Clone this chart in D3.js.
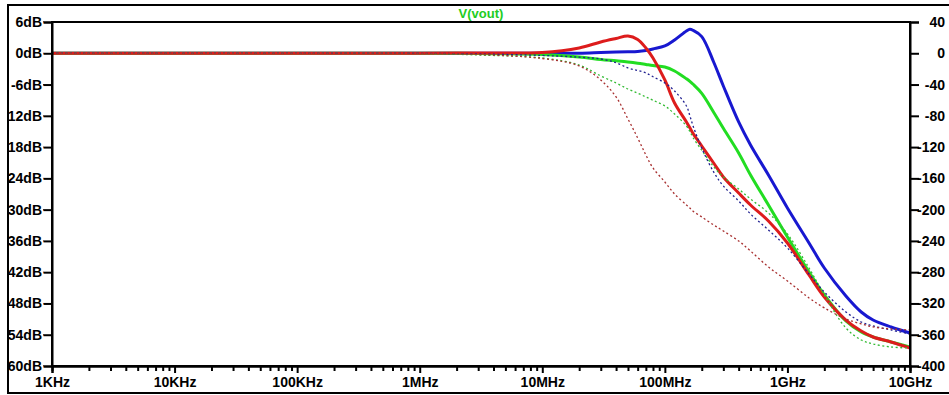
<!DOCTYPE html>
<html>
<head>
<meta charset="utf-8">
<script src="https://cdn.jsdelivr.net/npm/d3@7"></script>
<style>
  html, body { margin: 0; padding: 0; background: #fff; }
  svg { display: block; }
  text { font-family: "Liberation Sans", Arial, sans-serif; font-weight: bold; }
</style>
</head>
<body>
<svg id="chart" width="949" height="395"></svg>
<script>
// Frequency points (Hz) shared by every trace
const freq = [1e3, 1e4, 1e5, 1e6, 3e6, 1e7, 2e7, 3e7, 4e7, 5e7, 6e7, 7e7, 8e7, 1e8, 1.2e8, 1.5e8, 1.6e8, 1.7e8,
              2e8, 2.5e8, 3e8, 4e8, 5e8, 7e8, 1e9, 1.5e9, 2e9, 3e9, 4e9, 5e9, 7e9, 1e10];

// Magnitude traces, dB (left axis)
const magBlue  = [0, 0, 0, 0, 0, 0, 0, 0.15, 0.25, 0.29, 0.35, 0.54, 0.83, 1.40, 2.55, 4.28, 4.60, 4.40,
                  3.20, -1.67, -6.27, -13.18, -17.60, -23.35, -29.68, -36.40, -41.20, -46.57, -49.64, -51.18, -52.52, -53.67];
const magGreen = [0, 0, 0, 0, -0.05, -0.25, -0.71, -1.19, -1.45, -1.67, -1.90, -2.14, -2.35, -2.63, -3.40, -4.90, -5.40, -5.95,
                  -7.70, -11.30, -14.40, -19.13, -23.35, -29.11, -35.25, -41.96, -46.38, -51.36, -53.48, -54.44, -55.39, -56.35];
const magRed   = [0, 0, 0, 0, 0.06, 0.15, 1.02, 2.17, 2.84, 3.32, 2.65, 1.02, -0.90, -5.12, -9.54, -13.18, -14.30, -15.40,
                  -17.79, -21.05, -23.73, -26.81, -29.11, -32.18, -36.40, -42.54, -46.76, -51.18, -53.29, -54.44, -55.39, -56.55];

// Phase traces, degrees (right axis)
const phBlue  = [0, 0, 0, 0, -0.9, -2.8, -5.0, -7.3, -12.0, -18.8, -22.0, -25.2, -30.0, -38.0, -48.2, -67.4, -80.0, -93.0,
                 -121.3, -151.8, -169.7, -188.9, -205.5, -226.0, -249.0, -282.3, -305.3, -330.9, -343.7, -348.8, -353.9, -359.1];
const phGreen = [0, 0, 0, -0.3, -2.2, -6.0, -15.0, -29.0, -38.0, -45.7, -51.0, -55.9, -60.0, -67.4, -77.6, -93.0, -100.0, -108.0,
                 -124.0, -145.0, -158.2, -173.6, -186.4, -204.3, -231.1, -274.6, -309.2, -351.4, -366.7, -371.8, -375.7, -377.0];
const phRed   = [0, 0, 0, 0, -1.5, -6.7, -16.2, -34.2, -55.9, -84.0, -108.3, -130.1, -146.7, -164.6, -180.0, -194.0, -198.0, -202.0,
                 -209.4, -219.6, -227.3, -240.1, -252.9, -273.3, -291.2, -312.9, -325.7, -339.8, -346.2, -350.0, -352.6, -353.9];

// Axis ticks and labels
const dbTicks = [6, 0, -6, -12, -18, -24, -30, -36, -42, -48, -54, -60];
const degTicks = [40, 0, -40, -80, -120, -160, -200, -240, -280, -320, -360, -400];
const decadeTicks = [1e3, 1e4, 1e5, 1e6, 1e7, 1e8, 1e9, 1e10];
const decadeLabels = ["1KHz", "10KHz", "100KHz", "1MHz", "10MHz", "100MHz", "1GHz", "10GHz"];
const title = "V(vout)";

const svg = d3.select("#chart");
const m = { left: 52, right: 910, top: 22, bottom: 366 };

const x = d3.scaleLog().domain([1e3, 1e10]).range([m.left, m.right]);
const yL = d3.scaleLinear().domain([-60, 6]).range([m.bottom, m.top]);
const yR = d3.scaleLinear().domain([-400, 40]).range([m.bottom, m.top]);

const defs = svg.append("defs");
defs.append("clipPath").attr("id", "plotclip").append("rect")
  .attr("x", m.left).attr("y", m.top).attr("width", m.right - m.left).attr("height", m.bottom - m.top);
// left labels are cut at the inner edge of the window frame
defs.append("clipPath").attr("id", "leftclip").append("rect")
  .attr("x", 9 - m.left).attr("y", 0).attr("width", 200).attr("height", 395);

// outer frame
svg.append("rect").attr("x", 8).attr("y", 5).attr("width", 960).attr("height", 388)
  .attr("fill", "#fff").attr("stroke", "#000").attr("stroke-width", 2);

// title
svg.append("text").attr("x", (m.left + m.right) / 2).attr("y", 18)
  .attr("text-anchor", "middle").attr("font-size", 13).attr("fill", "#22cc22").text(title);

// traces
const plot = svg.append("g").attr("clip-path", "url(#plotclip)");

const lineMag = d3.line().x((d, i) => x(freq[i])).y(d => yL(d)).curve(d3.curveCatmullRom.alpha(0.5));
const linePh = d3.line().x((d, i) => x(freq[i])).y(d => yR(d)).curve(d3.curveCatmullRom.alpha(0.5));

const solid = [
  { v: magBlue, c: "#1818d0" },
  { v: magGreen, c: "#22dd22" },
  { v: magRed, c: "#dd1c1c" }
];
solid.forEach(s => plot.append("path").attr("d", lineMag(s.v)).attr("fill", "none")
  .attr("stroke", s.c).attr("stroke-width", 3).attr("stroke-linejoin", "round"));

const dashed = [
  { v: phGreen, c: "#33bb33" },
  { v: phBlue, c: "#202090" },
  { v: phRed, c: "#a83030" }
];
dashed.forEach(s => plot.append("path").attr("d", linePh(s.v)).attr("fill", "none")
  .attr("stroke", s.c).attr("stroke-width", 1.3).attr("stroke-dasharray", "2,2.5"));

// plot box
svg.append("rect").attr("x", m.left).attr("y", m.top).attr("width", m.right - m.left).attr("height", m.bottom - m.top)
  .attr("fill", "none").attr("stroke", "#000").attr("stroke-width", 2);

function styleAxis(g) {
  g.selectAll("path.domain").attr("stroke-width", 2);
  g.selectAll(".tick line").attr("stroke-width", 2);
  g.selectAll("text").attr("font-size", 14).attr("font-family", "'Liberation Sans', Arial, sans-serif")
    .attr("font-weight", "bold").attr("fill", "#000");
}

// left axis (dB)
const gL = svg.append("g").attr("transform", `translate(${m.left},0)`).attr("clip-path", "url(#leftclip)")
  .call(d3.axisLeft(yL).tickValues(dbTicks).tickFormat(d => d + "dB").tickSize(9).tickPadding(1));
styleAxis(gL);
gL.selectAll("text").attr("paint-order", "stroke").attr("stroke", "#fff").attr("stroke-width", 4);

// right axis (degrees)
const gR = svg.append("g").attr("transform", `translate(${m.right},0)`)
  .call(d3.axisRight(yR).tickValues(degTicks).tickFormat(d => d).tickSize(9).tickPadding(2));
styleAxis(gR);
gR.selectAll("text").attr("text-anchor", "end").attr("x", 35);

// bottom axis: minor ticks
const minor = [];
for (let e = 3; e < 10; e++) for (let k = 2; k <= 9; k++) minor.push(k * Math.pow(10, e));
const gMinor = svg.append("g").attr("transform", `translate(0,${m.bottom})`)
  .call(d3.axisBottom(x).tickValues(minor).tickFormat("").tickSize(5));
styleAxis(gMinor);

// bottom axis: decades
const gB = svg.append("g").attr("transform", `translate(0,${m.bottom})`)
  .call(d3.axisBottom(x).tickValues(decadeTicks).tickFormat((d, i) => decadeLabels[i]).tickSize(7).tickPadding(4));
styleAxis(gB);
</script>
</body>
</html>
